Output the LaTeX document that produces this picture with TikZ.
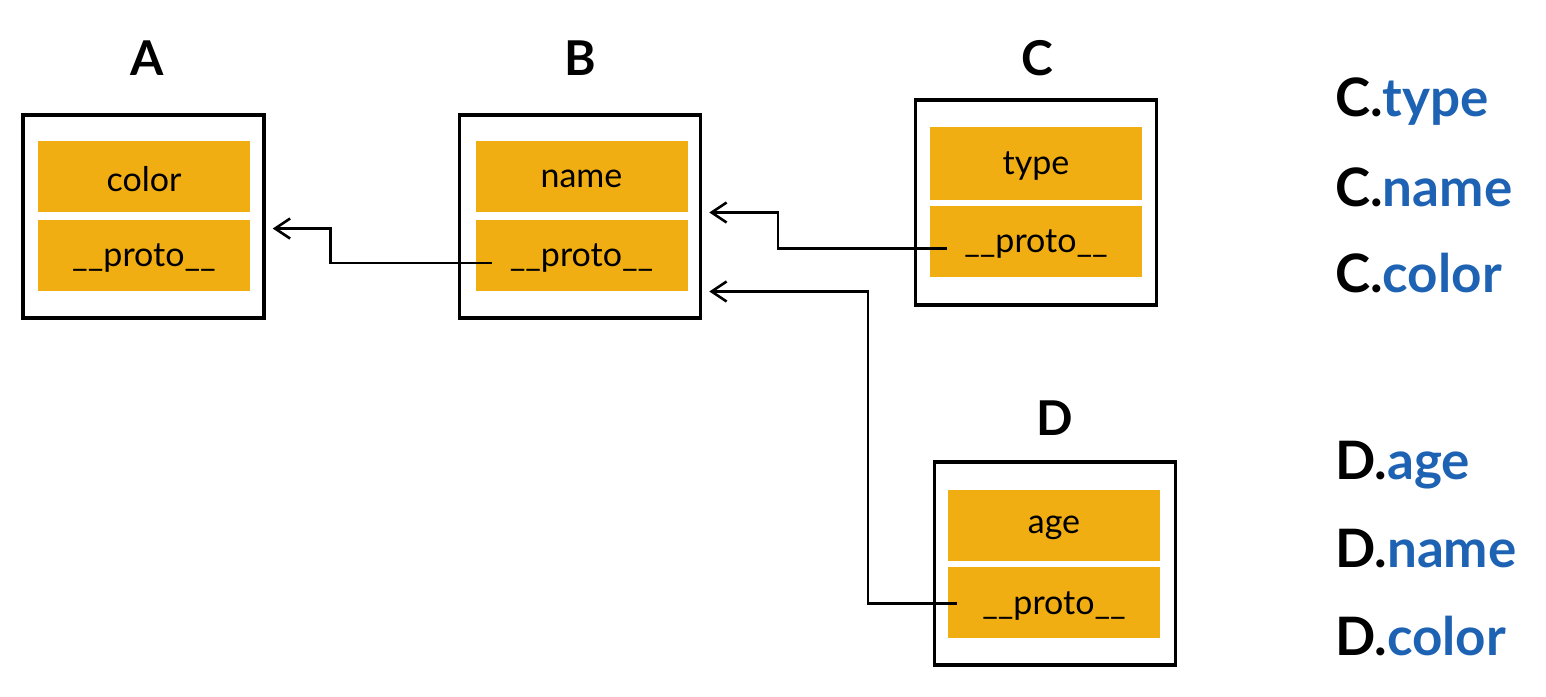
\documentclass[tikz,border=0pt]{standalone}
\usepackage{fontspec}
\setmainfont{Lato}
\usetikzlibrary{arrows.meta}
\definecolor{rowfill}{HTML}{F0AE12}
\definecolor{propblue}{HTML}{1E62B3}
\tikzset{
  objbox/.style={draw=black, line width=3.5pt, fill=white, inner sep=0pt, minimum width=#1},
  objbox/.default=241pt,
  rowbox/.style={fill=rowfill, inner sep=0pt, minimum width=212pt, minimum height=71pt},
  rowtext/.style={inner sep=1pt, font=\fontsize{34}{38}\selectfont},
  title/.style={font=\fontsize{48}{52}\selectfont\bfseries},
  acc/.style={anchor=west, inner sep=0pt, font=\fontsize{53}{58}\selectfont\bfseries},
  conn/.style={line width=2.6pt, -{Straight Barb[length=15pt,width=20pt,line width=2.6pt]}, shorten >=7pt},
}
\begin{document}
\begin{tikzpicture}[x=1pt,y=-1pt]
\useasboundingbox (0,0) rectangle (1546,696);
% A
\node[title] (At) at (147,58) {A};
\node[objbox, minimum height=203pt] (A) at (143.5,216.5) {};
\node[rowbox] (Ar1) at (144,176) {};
\node[rowbox] (Ar2) at (144,255) {};
\node[rowtext] (Ac) at ([yshift=-3pt]Ar1) {color};
\node[rowtext] (Apt) at ([yshift=-3pt]Ar2) {\_\_proto\_\_};
% B
\node[title] (Bt) at (580,58) {B};
\node[objbox, minimum height=203pt] (B) at (580,216.5) {};
\node[rowbox] (Br1) at (581.5,176) {};
\node[rowbox] (Br2) at (581.5,255) {};
\node[rowtext] (Bn) at ([yshift=-3pt]Br1) {name};
\node[rowtext] (Bpt) at ([yshift=-3pt]Br2) {\_\_proto\_\_};
% C
\node[title] (Ct) at (1037,58) {C};
\node[objbox, minimum height=205pt] (C) at (1036,202.5) {};
\node[rowbox, minimum height=73pt] (Cr1) at (1036,163.5) {};
\node[rowbox] (Cr2) at (1036,241.5) {};
\node[rowtext] (Cty) at ([yshift=-3pt]Cr1) {type};
\node[rowtext] (Cpt) at ([yshift=-3pt]Cr2) {\_\_proto\_\_};
% D
\node[title] (Dt) at (1055,418) {D};
\node[objbox, minimum height=203pt] (D) at (1055,563.5) {};
\node[rowbox] (Dr1) at (1054,525) {};
\node[rowbox] (Dr2) at (1054,602.5) {};
\node[rowtext] (Dag) at ([yshift=-3pt]Dr1) {age};
\node[rowtext] (Dpt) at ([yshift=-3pt]Dr2) {\_\_proto\_\_};
% connectors
\draw[conn] ([xshift=17pt,yshift=-8pt]Br2.west) -- ++(-162,0) |- ([yshift=-12pt]A.east);
\draw[conn] ([xshift=17pt,yshift=-7pt]Cr2.west) -- ++(-169,0) |- ([yshift=4pt]B.east);
\draw[conn] ([xshift=9pt,yshift=-1pt]Dr2.west) -- ++(-89,0) |- ([yshift=-75pt]B.east);
% accessors
\node[acc] (c1) at (1335,102) {C.\textcolor{propblue}{type}};
\node[acc] (c2) at (1335,187) {C.\textcolor{propblue}{name}};
\node[acc] (c3) at (1335,273) {C.\textcolor{propblue}{color}};
\node[acc] (d1) at (1335,465) {D.\textcolor{propblue}{age}};
\node[acc] (d2) at (1335,549) {D.\textcolor{propblue}{name}};
\node[acc] (d3) at (1335,636) {D.\textcolor{propblue}{color}};
\end{tikzpicture}
\end{document}
